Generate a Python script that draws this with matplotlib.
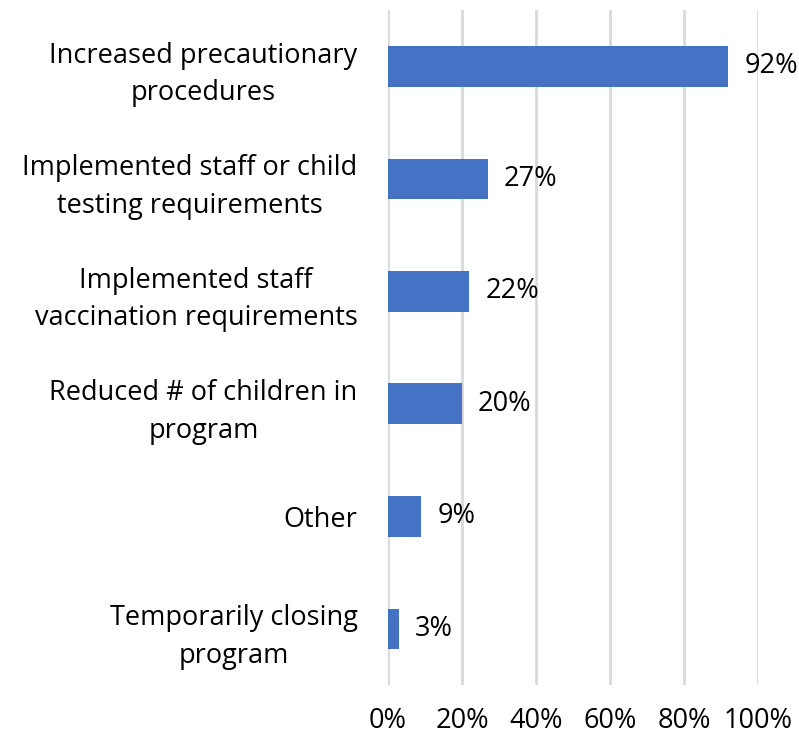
import matplotlib
matplotlib.use("Agg")
import matplotlib.pyplot as plt
from matplotlib.ticker import FuncFormatter

categories = ["Increased precautionary\nprocedures",
              "Implemented staff or child\ntesting requirements",
              "Implemented staff\nvaccination requirements",
              "Reduced # of children in\nprogram",
              "Other",
              "Temporarily closing\nprogram"]
values = [92, 27, 22, 20, 9, 3]
xticks = [0, 20, 40, 60, 80, 100]

plt.rcParams['font.family'] = ['Open Sans', 'DejaVu Sans']
fig = plt.figure(figsize=(7.99, 7.38), dpi=100)
ax = fig.add_axes([388/799, 1-685/738, 370/799, 675/738])

y = list(range(len(categories)))[::-1]
ax.barh(y, values, height=0.36, color='#4472C4', zorder=3)
for yi, v in zip(y, values):
    ax.text(v + 4.3, yi, f"{v}%", va='center', ha='left', fontsize=19.5, color='#000000')

ax.set_xlim(0, 100)
ax.set_ylim(-0.5, 5.5)
ax.set_xticks(xticks)
ax.xaxis.set_major_formatter(FuncFormatter(lambda x, p: f"{int(x)}%"))
ax.set_yticks(y)
ax.set_yticklabels(categories, ha='right', multialignment='center', fontsize=19.5, linespacing=1.45)
ax.tick_params(axis='y', length=0, pad=22)
ax.tick_params(axis='x', length=0, pad=16, labelsize=19.5)
ax.grid(axis='x', color='#D9D9D9', linewidth=2, zorder=0)
for s in ax.spines.values():
    s.set_visible(False)
fig.savefig("out.png", dpi=100)
